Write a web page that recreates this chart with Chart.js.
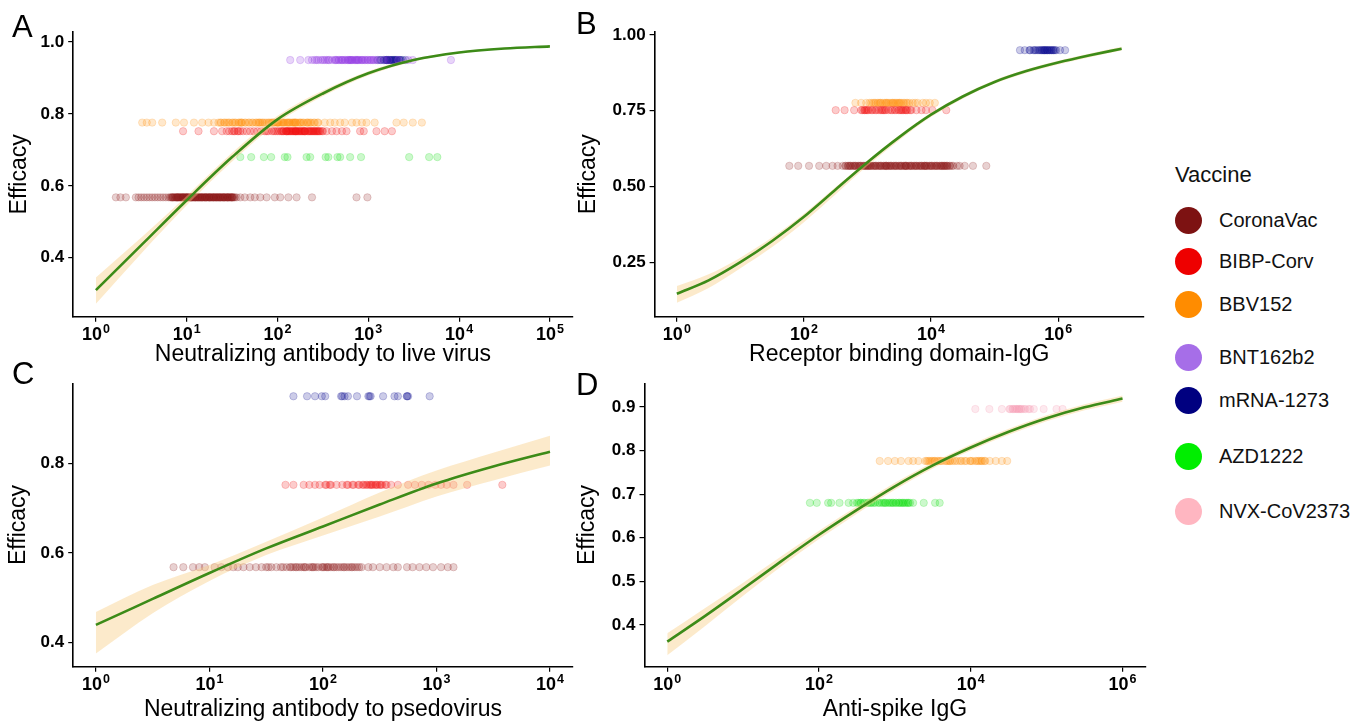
<!DOCTYPE html>
<html>
<head>
<meta charset="utf-8">
<script src="https://cdn.jsdelivr.net/npm/chart.js@4.4.1/dist/chart.umd.min.js"></script>
<style>
  body { margin: 0; background: #fff; }
  #wrap { position: relative; width: 1369px; height: 725px; overflow: hidden; background: #fff;
          font-family: "Liberation Sans", Arial, sans-serif; }
  canvas { position: absolute; }
  .lab { position: absolute; font-size: 31px; line-height: 31px; color: #000; }
  .leg { position: absolute; font-size: 20px; line-height: 20px; color: #111; white-space: nowrap; }
  .legt { position: absolute; font-size: 22px; line-height: 22px; color: #111; white-space: nowrap; }
  .dot { position: absolute; width: 27px; height: 27px; border-radius: 50%; }
</style>
</head>
<body>
<div id="wrap">
  <canvas id="cA" width="600" height="372" style="left:0px;top:0px"></canvas>
  <canvas id="cB" width="600" height="372" style="left:560px;top:0px"></canvas>
  <canvas id="cC" width="600" height="353" style="left:0px;top:372px"></canvas>
  <canvas id="cD" width="600" height="353" style="left:560px;top:372px"></canvas>
  <div class="lab" style="left:12px;top:11px">A</div>
  <div class="lab" style="left:576px;top:8px">B</div>
  <div class="lab" style="left:12px;top:358px">C</div>
  <div class="lab" style="left:576px;top:369px">D</div>
  <div id="legend"></div>
</div>
<script>
// ---------------- vaccines ----------------
const vaccines     = ['CoronaVac', 'BIBP-Corv', 'BBV152', 'BNT162b2', 'mRNA-1273', 'AZD1222', 'NVX-CoV2373'];
const efficacy     = [0.568, 0.752, 0.776, 0.95, 0.95, 0.68, 0.895];
const pointRGB     = ['139,26,26', '238,0,0', '255,140,0', '138,43,226', '0,0,139', '0,220,0', '245,150,175'];
const legendColors = ['#7D1212', '#EE0000', '#FF8C00', '#A66EE8', '#000080', '#00EE00', '#FFB6C1'];
const legendY      = [220, 261, 304, 357, 400, 456, 511];

// ---------------- Panel A: neutralizing antibody to live virus (log10 titre) ----------------
const A_CoronaVac = [0.22,0.27,0.33,0.44,0.47,0.50,0.53,0.56,0.59,0.62,0.65,0.68,0.71,0.74,0.77,0.80,0.82,0.84,0.86,0.88,0.90,0.92,0.94,0.96,0.98,1.00,1.02,1.04,1.06,1.08,1.10,1.12,1.14,1.16,1.18,1.20,1.22,1.24,1.26,1.28,1.30,1.32,1.34,1.36,1.38,1.40,1.42,1.44,1.46,1.48,1.50,1.52,1.55,1.59,1.64,1.70,1.75,1.81,1.88,1.97,2.03,2.12,2.21,2.38,2.87,2.99,
                     0.85,0.89,0.93,0.97,1.01,1.05,1.09,1.13,1.17,1.21,1.25,1.29,1.33,1.37,1.41,1.45,1.49,0.95,1.05,1.15,1.25,1.35,1.45,
                     0.83,0.845,0.87,0.885,0.905,0.915,0.935,0.955,0.965,0.985,0.995,1.015,1.035,1.045,1.065,1.075,1.095,1.115,1.125,1.145,1.165,1.175,1.195,1.215,1.225,1.245,1.265,1.275,1.295,1.315,1.325,1.345,1.365,1.375,1.395,1.415,1.425,1.445,1.465,1.475,1.495,1.51,1.53,0.9,1.0,1.1,1.2,1.3,1.4,1.5];
const A_BIBP      = [0.96,1.13,1.30,1.39,1.44,1.52,1.57,1.62,1.66,1.70,1.74,1.78,1.82,1.86,1.90,1.94,1.98,2.02,2.06,2.10,2.14,2.18,2.22,2.26,2.30,2.34,2.38,2.42,2.46,2.50,2.54,2.60,2.65,2.71,2.76,2.91,2.95,3.09,3.18,3.26,
                     1.88,1.96,2.04,2.12,2.20,2.28,2.36,2.44,2.00,2.16,2.24,
                     2.05,2.07,2.09,2.11,2.13,2.15,2.17,2.19,2.21,2.23,2.25,2.27,2.29,2.31,2.33,2.35,2.37,2.39,2.41,2.43,2.45,2.47,2.49,1.47,1.50,1.53,1.56,1.59,2.1,2.2,2.3,2.4];
const A_BBV152    = [0.51,0.56,0.62,0.73,0.88,0.97,1.08,1.17,1.24,1.30,1.37,1.42,1.46,1.50,1.53,1.57,1.60,1.64,1.68,1.72,1.76,1.79,1.83,1.86,1.90,1.93,1.96,1.99,2.02,2.05,2.08,2.11,2.14,2.17,2.20,2.24,2.28,2.32,2.36,2.40,2.45,2.52,2.58,2.63,2.69,2.74,2.82,2.87,2.93,2.98,3.07,3.31,3.39,3.49,3.59,
                     1.95,2.00,2.06,2.12,2.18,2.26,2.34,
                     1.35,1.38,1.41,1.44,1.47,1.51,1.54,1.58,1.61,1.65,1.69,1.73,1.77,1.81,1.84,1.88,1.91,1.94,1.97,2.01,2.04,2.07,2.10,2.13,2.16,2.19,2.22,2.25,2.29,2.33,2.37,2.41,2.44,1.6,1.8,2.0,2.2];
const A_AZD1222   = [1.59,1.71,1.85,1.93,2.08,2.11,2.32,2.36,2.53,2.56,2.66,2.69,2.80,2.92,3.45,3.67,3.76];
const A_BNT162b2  = [2.14,2.25,2.34,2.38,2.43,2.50,2.54,2.57,2.63,2.67,2.71,2.75,2.78,2.81,2.83,2.86,2.89,2.92,2.94,2.97,3.00,3.03,3.06,3.11,3.17,3.22,3.33,3.44,3.49,3.91,2.65,2.72,2.80,2.88,
                     2.41,2.45,2.48,2.52,2.56,2.60,2.64,2.68,2.70,2.74,2.77,2.79,2.82,2.85,2.87,2.90,2.93,2.96,2.99,3.02,3.05,3.08];
const A_mRNA1273  = [3.10,3.14,3.17,3.20,3.22,3.24,3.26,3.28,3.30,3.32,3.35,3.38,3.41,3.20,3.27,3.13,3.18,3.21,3.23,3.25,3.29,3.31,3.34,3.36];
const A_curveLogX = [0,0.5,1,1.5,2,2.5,3,3.5,4,4.5,5];
const A_fit       = [0.310,0.435,0.560,0.680,0.785,0.857,0.913,0.950,0.971,0.982,0.988];
const A_lower     = [0.272,0.412,0.546,0.668,0.775,0.849,0.907,0.946,0.968,0.980,0.986];
const A_upper     = [0.345,0.456,0.572,0.692,0.795,0.865,0.919,0.954,0.974,0.984,0.990];
const A_xTickExp  = [0,1,2,3,4,5];
const A_yTicks    = [0.4,0.6,0.8,1.0];
const A_yLabels   = ['0.4','0.6','0.8','1.0'];

// ---------------- Panel B: receptor binding domain-IgG ----------------
const B_CoronaVac = [1.77,1.91,2.08,2.24,2.35,2.45,2.53,2.61,2.66,2.70,2.74,2.78,2.82,2.86,2.90,2.94,2.98,3.02,3.06,3.10,3.14,3.18,3.22,3.26,3.30,3.34,3.38,3.42,3.46,3.50,3.54,3.58,3.62,3.66,3.70,3.74,3.78,3.82,3.86,3.90,3.94,3.98,4.02,4.06,4.10,4.14,4.18,4.22,4.26,4.30,4.35,4.41,4.45,4.53,4.66,4.87,
                     2.72,2.80,2.88,2.96,3.04,3.12,3.20,3.28,3.36,3.44,3.52,3.60,3.68,3.76,3.84,3.92,4.00,4.08,4.16,4.24,
                     2.65,2.69,2.73,2.77,2.81,2.85,2.89,2.93,2.97,3.01,3.05,3.09,3.13,3.17,3.21,3.25,3.29,3.33,3.37,3.41,3.45,3.49,3.53,3.57,3.61,3.65,3.69,3.73,3.77,3.81,3.85,3.89,3.93,3.97,4.01,4.05,4.09,4.13,4.17,4.21,4.25,4.29,4.33,3.0,3.3,3.6,3.9,4.2];
const B_BIBP      = [2.50,2.64,2.79,2.90,2.98,3.06,3.14,3.21,3.29,3.37,3.45,3.53,3.61,3.69,3.77,3.85,3.92,4.02,4.24,2.95,3.00,3.25,3.55,3.60,
                     2.92,2.96,3.02,3.08,3.12,3.18,3.23,3.27,3.33,3.39,3.43,3.49,3.51,3.57,3.63,3.67];
const B_BBV152    = [2.81,2.90,2.98,3.06,3.11,3.16,3.21,3.27,3.32,3.37,3.42,3.48,3.53,3.58,3.63,3.71,3.79,3.87,3.92,3.98,4.06,3.20,3.30,3.40,3.50,
                     3.03,3.09,3.13,3.18,3.24,3.29,3.34,3.39,3.44,3.46,3.51,3.56,3.61,3.66,3.75];
const B_mRNA1273  = [5.40,5.475,5.55,5.63,5.68,5.74,5.79,5.84,5.90,5.95,6.03,6.11,5.72,5.77,5.82,5.87,5.92,5.80,
                     5.56,5.61,5.65,5.70,5.75,5.78,5.83,5.86,5.89,5.93,5.97];
const B_curveLogX = [0,0.5,1,1.5,2,2.5,3,3.5,4,4.5,5,5.5,6,6.5,7];
const B_fit       = [0.146,0.190,0.250,0.320,0.400,0.490,0.580,0.663,0.737,0.797,0.845,0.881,0.909,0.933,0.955];
const B_lower     = [0.116,0.165,0.230,0.300,0.382,0.474,0.568,0.653,0.729,0.790,0.839,0.875,0.903,0.927,0.949];
const B_upper     = [0.171,0.210,0.265,0.332,0.410,0.498,0.586,0.669,0.743,0.803,0.851,0.887,0.915,0.939,0.961];
const B_xTickExp  = [0,2,4,6];
const B_yTicks    = [0.25,0.5,0.75,1.0];
const B_yLabels   = ['0.25','0.50','0.75','1.00'];

// ---------------- Panel C: neutralizing antibody to pseudovirus ----------------
const C_CoronaVac = [0.684,0.77,0.855,0.91,0.96,1.046,1.105,1.163,1.21,1.25,1.30,1.355,1.41,1.46,1.50,1.546,1.59,1.63,1.68,1.72,1.77,1.81,1.85,1.90,1.94,1.99,2.03,2.07,2.12,2.16,2.21,2.25,2.30,2.34,2.40,2.44,2.50,2.56,2.62,2.66,2.74,2.79,2.85,2.91,2.97,3.04,3.10,3.15,
                     1.74,1.83,1.92,2.00,2.05,2.10,2.18,2.26,1.52,1.65,
                     1.71,1.76,1.79,1.84,1.88,1.91,1.96,2.01,2.04,2.09,2.14,2.19,2.23,2.28,2.32];
const C_BIBP      = [1.67,1.74,1.83,1.88,1.93,1.97,2.03,2.06,2.07,2.12,2.17,2.22,2.27,2.31,2.35,2.38,2.39,2.42,2.43,2.46,2.47,2.50,2.52,2.56,2.60,2.66,2.75,2.81,2.87,2.93,2.99,3.04,3.09,3.15,3.27,3.58,
                     2.32,2.36,2.41,2.44,2.48,2.51,2.55,2.21,2.26,2.02];
const C_mRNA1273  = [1.74,1.86,1.93,1.99,2.02,2.16,2.17,2.19,2.22,2.30,2.40,2.41,2.42,2.53,2.63,2.66,2.74,2.74,2.75,2.94];
const C_curveLogX = [0,0.5,1,1.5,2,2.5,3,3.5,4];
const C_fit       = [0.439,0.497,0.555,0.610,0.659,0.708,0.755,0.793,0.826];
const C_lower     = [0.375,0.465,0.537,0.595,0.639,0.681,0.726,0.762,0.795];
const C_upper     = [0.468,0.528,0.573,0.625,0.679,0.735,0.784,0.824,0.862];
const C_xTickExp  = [0,1,2,3,4];
const C_yTicks    = [0.4,0.6,0.8];
const C_yLabels   = ['0.4','0.6','0.8'];

// ---------------- Panel D: anti-spike IgG ----------------
const D_NVX       = [4.06,4.245,4.41,4.51,4.56,4.61,4.67,4.76,4.83,4.96,5.13,5.21,4.58,4.64,4.70,4.52,4.55,4.60,4.63,4.66,4.72,4.78];
const D_BBV152    = [2.80,2.91,3.00,3.08,3.18,3.24,3.31,3.40,3.46,3.53,3.60,3.66,3.73,3.79,3.86,3.92,3.99,4.06,4.12,4.19,4.25,4.33,4.41,4.48,3.42,3.50,3.56,3.70,4.00,4.10,4.15,
                     3.44,3.48,3.52,3.58,3.62,3.68,3.72,3.76,3.82,3.88,3.94,4.02,4.08,4.14,4.18];
const D_AZD1222   = [1.88,1.97,2.12,2.16,2.27,2.39,2.45,2.52,2.585,2.65,2.72,2.78,2.85,2.91,2.98,3.05,3.11,3.18,3.24,3.38,3.53,3.59,2.88,2.95,3.02,3.08,3.15,2.55,2.68,
                     2.50,2.55,2.60,2.64,2.69,2.74,2.80,2.83,2.87,2.93,2.97,3.01,3.06,3.10,3.13,3.17,3.20];
const D_curveLogX = [0,0.5,1,1.5,2,2.5,3,3.5,4,4.5,5,5.5,6];
const D_fit       = [0.362,0.421,0.483,0.546,0.607,0.664,0.718,0.766,0.807,0.843,0.874,0.899,0.919];
const D_lower     = [0.331,0.398,0.467,0.534,0.597,0.655,0.710,0.759,0.800,0.836,0.867,0.892,0.912];
const D_upper     = [0.381,0.439,0.497,0.557,0.616,0.672,0.726,0.773,0.814,0.850,0.881,0.906,0.926];
const D_xTickExp  = [0,2,4,6];
const D_yTicks    = [0.4,0.5,0.6,0.7,0.8,0.9];
const D_yLabels   = ['0.4','0.5','0.6','0.7','0.8','0.9'];

// ---------------- drawing ----------------
const FONT = '"Liberation Sans", Arial, sans-serif';
const toPts = (logs, eff) => logs.map(v => ({ x: Math.pow(10, v), y: eff }));
const toCurve = (xs, ys) => xs.map((v, i) => ({ x: Math.pow(10, v), y: ys[i] }));

// draws "10" with a raised exponent under each x tick of the log axis
const powerLabels = {
  id: 'powerLabels',
  afterDraw(chart) {
    const s = chart.scales.x, ctx = chart.ctx;
    ctx.save();
    ctx.fillStyle = '#000';
    ctx.textAlign = 'left';
    ctx.textBaseline = 'alphabetic';
    s.ticks.forEach(t => {
      const e = String(Math.round(Math.log10(t.value)));
      const x = s.getPixelForValue(t.value);
      ctx.font = 'bold 18px ' + FONT;
      const w1 = ctx.measureText('10').width;
      ctx.font = 'bold 12.5px ' + FONT;
      const w2 = ctx.measureText(e).width;
      const left = x - (w1 + w2 + 1) / 2;
      const base = s.top + 23;
      ctx.font = 'bold 18px ' + FONT;
      ctx.fillText('10', left, base);
      ctx.font = 'bold 12.5px ' + FONT;
      ctx.fillText(e, left + w1 + 1, base - 7);
    });
    ctx.restore();
  }
};

function panel(id, p) {
  const datasets = [
    { data: toCurve(p.cx, p.fit), showLine: true, borderColor: '#3c8b18', borderWidth: 2.6,
      pointRadius: 0, cubicInterpolationMode: 'monotone', fill: false, order: 0 },
    { data: toCurve(p.cx, p.hi), showLine: true, borderColor: 'rgba(0,0,0,0)', borderWidth: 1,
      pointRadius: 0, cubicInterpolationMode: 'monotone', fill: '+1',
      backgroundColor: 'rgba(249,205,130,0.42)', order: 1 },
    { data: toCurve(p.cx, p.lo), showLine: true, borderColor: 'rgba(0,0,0,0)', borderWidth: 1,
      pointRadius: 0, cubicInterpolationMode: 'monotone', fill: false, order: 2 }
  ];
  p.series.forEach((s, i) => {
    const c = pointRGB[s.v];
    datasets.push({ data: toPts(s.logs, efficacy[s.v]), showLine: false, pointRadius: 3.7,
      pointBorderWidth: 1, pointBackgroundColor: `rgba(${c},0.2)`, pointBorderColor: `rgba(${c},0.2)`,
      order: 10 - i });
  });
  const tickFont = { family: FONT, size: 17, weight: 'bold' };
  new Chart(document.getElementById(id), {
    type: 'scatter',
    data: { datasets },
    plugins: [powerLabels],
    options: {
      responsive: false, animation: false, events: [],
      layout: { padding: { left: 0, top: p.padTop, right: p.padRight, bottom: 0 } },
      plugins: { legend: { display: false }, tooltip: { enabled: false } },
      scales: {
        x: {
          type: 'logarithmic', bounds: 'data',
          min: Math.pow(10, p.xMin), max: Math.pow(10, p.xMax),
          afterBuildTicks: s => { s.ticks = p.xTicks.map(e => ({ value: Math.pow(10, e) })); },
          afterFit: s => { s.height = p.xH; s.paddingLeft = 0; s.paddingRight = 0; },
          ticks: { display: false, autoSkip: false, maxRotation: 0, minRotation: 0 },
          grid: { display: true, drawOnChartArea: false, drawTicks: true, tickLength: 5, color: '#000', lineWidth: 1.2 },
          border: { display: true, color: '#000', width: 1.6 },
          title: { display: true, text: p.xTitle, color: '#000', font: { family: FONT, size: 23 },
                   padding: { top: 0, bottom: p.xTitlePad } }
        },
        y: {
          type: 'linear', bounds: 'data', min: p.yMin, max: p.yMax,
          afterBuildTicks: s => { s.ticks = p.yTicks.map(v => ({ value: v })); },
          afterFit: s => { s.width = p.yW; s.paddingTop = 0; s.paddingBottom = 0; },
          ticks: { padding: 4, color: '#000', font: tickFont,
                   callback: v => p.yLabels[p.yTicks.indexOf(v)] },
          grid: { display: true, drawOnChartArea: false, drawTicks: true, tickLength: 5, color: '#000', lineWidth: 1.2 },
          border: { display: true, color: '#000', width: 1.6 },
          title: { display: true, text: 'Efficacy', color: '#000', font: { family: FONT, size: 23 },
                   padding: { top: p.yTitlePad, bottom: 0 } }
        }
      }
    }
  });
}

panel('cA', {
  cx: A_curveLogX, fit: A_fit, lo: A_lower, hi: A_upper,
  series: [{ v: 4, logs: A_mRNA1273 }, { v: 3, logs: A_BNT162b2 }, { v: 2, logs: A_BBV152 },
           { v: 1, logs: A_BIBP }, { v: 5, logs: A_AZD1222 }, { v: 0, logs: A_CoronaVac }],
  xMin: -0.25, xMax: 5.25, xTicks: A_xTickExp, yMin: 0.236, yMax: 1.028, yTicks: A_yTicks, yLabels: A_yLabels,
  xTitle: 'Neutralizing antibody to live virus', padTop: 32, padRight: 27.4, xH: 55.3, yW: 73.2,
  xTitlePad: 3.2, yTitlePad: 6.2
});
panel('cB', {
  cx: B_curveLogX, fit: B_fit, lo: B_lower, hi: B_upper,
  series: [{ v: 4, logs: B_mRNA1273 }, { v: 2, logs: B_BBV152 }, { v: 1, logs: B_BIBP }, { v: 0, logs: B_CoronaVac }],
  xMin: -0.35, xMax: 7.35, xTicks: B_xTickExp, yMin: 0.070, yMax: 1.011, yTicks: B_yTicks, yLabels: B_yLabels,
  xTitle: 'Receptor binding domain-IgG', padTop: 31.7, padRight: 16.1, xH: 55.3, yW: 94.6,
  xTitlePad: 3.2, yTitlePad: 15.2
});
panel('cC', {
  cx: C_curveLogX, fit: C_fit, lo: C_lower, hi: C_upper,
  series: [{ v: 4, logs: C_mRNA1273 }, { v: 1, logs: C_BIBP }, { v: 0, logs: C_CoronaVac }],
  xMin: -0.2, xMax: 4.2, xTicks: C_xTickExp, yMin: 0.3455, yMax: 0.979, yTicks: C_yTicks, yLabels: C_yLabels,
  xTitle: 'Neutralizing antibody to psedovirus', padTop: 11.3, padRight: 27.3, xH: 58.3, yW: 73.2,
  xTitlePad: 1.2, yTitlePad: 5.2
});
panel('cD', {
  cx: D_curveLogX, fit: D_fit, lo: D_lower, hi: D_upper,
  series: [{ v: 6, logs: D_NVX }, { v: 2, logs: D_BBV152 }, { v: 5, logs: D_AZD1222 }],
  xMin: -0.3, xMax: 6.3, xTicks: D_xTickExp, yMin: 0.3045, yMax: 0.954, yTicks: D_yTicks, yLabels: D_yLabels,
  xTitle: 'Anti-spike IgG', padTop: 11.3, padRight: 14.7, xH: 58.3, yW: 84.5,
  xTitlePad: 1.2, yTitlePad: 14.2
});

// ---------------- legend ----------------
const leg = document.getElementById('legend');
let html = '<div class="legt" style="left:1175px;top:164px">Vaccine</div>';
vaccines.forEach((name, i) => {
  const y = legendY[i];
  html += `<div class="dot" style="left:${1188 - 13.5}px;top:${y - 13.5}px;background:${legendColors[i]}"></div>`;
  html += `<div class="leg" style="left:1219px;top:${y - 10}px">${name}</div>`;
});
leg.innerHTML = html;
</script>
</body>
</html>
